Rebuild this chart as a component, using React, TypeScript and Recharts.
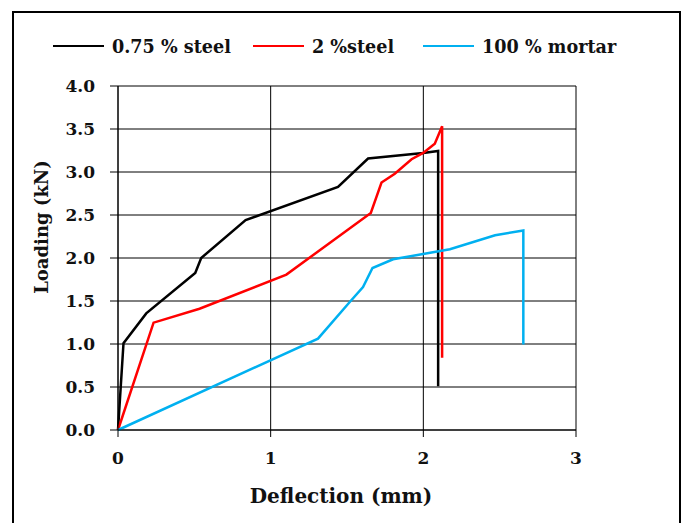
import React from 'react';
import { LineChart, Line, XAxis, YAxis, CartesianGrid, Label } from 'recharts';

const steel075X = [0, 0.036, 0.185, 0.506, 0.545, 0.836, 1.441, 1.638, 1.999, 2.097, 2.097];
const steel075Y = [0, 1.01, 1.356, 1.825, 2.0, 2.44, 2.827, 3.157, 3.222, 3.245, 0.51];

const steel2X = [0, 0.233, 0.534, 1.103, 1.656, 1.726, 1.813, 1.923, 1.999, 2.075, 2.123, 2.123];
const steel2Y = [0, 1.248, 1.41, 1.807, 2.524, 2.877, 2.98, 3.149, 3.222, 3.33, 3.533, 0.84];

const mortarX = [0, 1.31, 1.518, 1.605, 1.667, 1.802, 2.174, 2.47, 2.655, 2.655];
const mortarY = [0, 1.062, 1.488, 1.662, 1.884, 1.985, 2.101, 2.264, 2.32, 0.995];

const xTicks = [0, 1, 2, 3];
const yTicks = [0, 0.5, 1, 1.5, 2, 2.5, 3, 3.5, 4];

const seriesNames = ['0.75 % steel', '2 %steel', '100 % mortar'];
const seriesColors = ['#000000', '#ff0000', '#00b0f0'];

const zip = (xs: number[], ys: number[]) => xs.map((x, i) => ({ x, y: ys[i] }));

const series = [
  { name: seriesNames[0], color: seriesColors[0], data: zip(steel075X, steel075Y) },
  { name: seriesNames[1], color: seriesColors[1], data: zip(steel2X, steel2Y) },
  { name: seriesNames[2], color: seriesColors[2], data: zip(mortarX, mortarY) },
];

const FONT = '"DejaVu Serif", serif';
const legendGaps = [0, 22, 29];

const LegendBlock = () => (
  <div
    style={{
      position: 'absolute',
      left: 53,
      top: 35,
      height: 22,
      display: 'flex',
      alignItems: 'center',
      fontFamily: FONT,
      fontWeight: 'bold',
      fontSize: 17.6,
      color: '#111',
      whiteSpace: 'nowrap',
    }}
  >
    {series.map((s, i) => (
      <div key={s.name} style={{ display: 'flex', alignItems: 'center', marginLeft: legendGaps[i] }}>
        <div style={{ width: 51, height: 2.5, background: s.color, marginRight: 8 }} />
        <span>{s.name}</span>
      </div>
    ))}
  </div>
);

export default function App() {
  return (
    <div style={{ position: 'absolute', left: 0, top: 0, width: 683, height: 523, background: '#fff', overflow: 'hidden' }}>
      <div style={{ position: 'absolute', left: 12, top: 11, width: 665, height: 530, border: '2px solid #000' }} />
      <div style={{ position: 'absolute', left: 0, top: 0 }}>
        <LineChart
          width={683}
          height={523}
          margin={{ top: 86, right: 107, bottom: 43, left: 58 }}
        >
          <CartesianGrid stroke="#000" strokeWidth={1} />
          <XAxis
            type="number"
            dataKey="x"
            domain={[0, 3]}
            ticks={xTicks}
            allowDuplicatedCategory={false}
            height={50}
            tickSize={7}
            tickMargin={15}
            stroke="#000"
            tick={{ fill: '#111', fontFamily: FONT, fontWeight: 'bold', fontSize: 17 }}
          >
            <Label
              content={({ viewBox }: any) => (
                <text
                  x={viewBox.x + viewBox.width / 2 - 6}
                  y={viewBox.y + 73}
                  textAnchor="middle"
                  fontFamily={FONT}
                  fontWeight="bold"
                  fontSize={20}
                  fill="#111"
                >
                  Deflection (mm)
                </text>
              )}
            />
          </XAxis>
          <YAxis
            type="number"
            dataKey="y"
            domain={[0, 4]}
            ticks={yTicks}
            width={60}
            tickSize={8}
            tickMargin={15}
            stroke="#000"
            tickFormatter={(v: number) => v.toFixed(1)}
            tick={{ fill: '#111', fontFamily: FONT, fontWeight: 'bold', fontSize: 17 }}
          >
            <Label
              content={({ viewBox }: any) => {
                const cx = viewBox.x - 17;
                const cy = viewBox.y + viewBox.height / 2 - 31;
                return (
                  <text
                    x={cx}
                    y={cy}
                    transform={`rotate(-90 ${cx} ${cy})`}
                    textAnchor="middle"
                    dominantBaseline="central"
                    fontFamily={FONT}
                    fontWeight="bold"
                    fontSize={18}
                    fill="#111"
                  >
                    Loading (kN)
                  </text>
                );
              }}
            />
          </YAxis>
          {series.map((s) => (
            <Line
              key={s.name}
              name={s.name}
              data={s.data}
              dataKey="y"
              type="linear"
              stroke={s.color}
              strokeWidth={2.5}
              dot={false}
              activeDot={false}
              isAnimationActive={false}
            />
          ))}
        </LineChart>
      </div>
      <LegendBlock />
    </div>
  );
}
